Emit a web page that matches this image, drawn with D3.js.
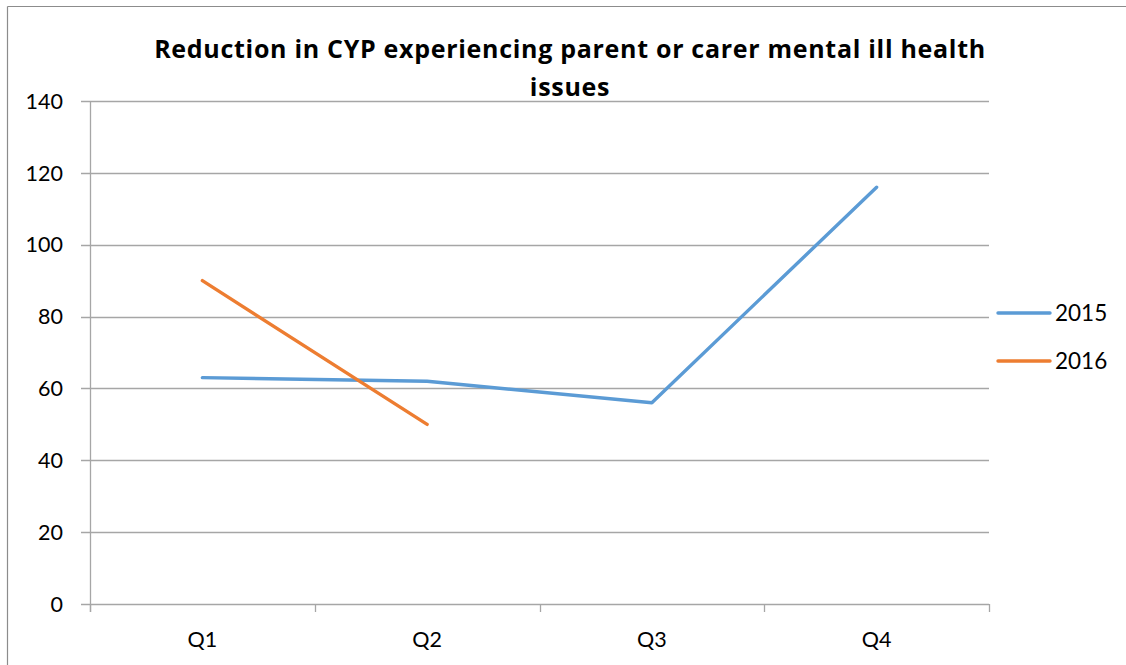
<!DOCTYPE html>
<html>
<head>
<meta charset="utf-8">
<script src="https://cdn.jsdelivr.net/npm/d3@7"></script>
<style>
  body { margin: 0; background: #fff; }
  svg { display: block; font-family: Lato, "Open Sans", sans-serif; }
</style>
</head>
<body>
<svg id="chart" width="1126" height="665"></svg>
<script>
const categories = ['Q1', 'Q2', 'Q3', 'Q4'];
const values2015 = [63, 62, 56, 116];
const values2016 = [90, 50];
const seriesNames = ['2015', '2016'];
const seriesColors = ['#5B9BD5', '#ED7D31'];
const yTicks = [0, 20, 40, 60, 80, 100, 120, 140];
const titleLines = ['Reduction in CYP experiencing parent or carer mental ill health', 'issues'];

const W = 1126, H = 665;
const plot = { left: 90, right: 989, top: 101, bottom: 604 };

const svg = d3.select('#chart');

// outer frame (top + left only visible)
svg.append('line').attr('x1', 7.5).attr('x2', W).attr('y1', 6.5).attr('y2', 6.5)
  .attr('stroke', '#8c8c8c').attr('stroke-width', 1.2);
svg.append('line').attr('x1', 7.5).attr('x2', 7.5).attr('y1', 6.5).attr('y2', H)
  .attr('stroke', '#8c8c8c').attr('stroke-width', 1.2);

const x = d3.scaleBand().domain(categories).range([plot.left, plot.right]);
const y = d3.scaleLinear().domain([0, 140]).range([plot.bottom, plot.top]);

// gridlines
svg.append('g')
  .selectAll('line')
  .data(yTicks)
  .enter()
  .append('line')
  .attr('x1', plot.left - 9)
  .attr('x2', plot.right)
  .attr('y1', d => Math.round(y(d)) + 0.5)
  .attr('y2', d => Math.round(y(d)) + 0.5)
  .attr('stroke', '#a6a6a6')
  .attr('stroke-width', 1.3);

// y axis line
svg.append('line')
  .attr('x1', plot.left + 0.5).attr('x2', plot.left + 0.5)
  .attr('y1', plot.top).attr('y2', plot.bottom + 8)
  .attr('stroke', '#a6a6a6').attr('stroke-width', 1.3);

// y labels
svg.append('g')
  .selectAll('text')
  .data(yTicks)
  .enter()
  .append('text')
  .attr('x', 63)
  .attr('y', d => y(d))
  .attr('dy', '0.36em')
  .attr('text-anchor', 'end')
  .attr('font-size', 21.5)
  .attr('fill', '#000')
  .text(d => d);

// x ticks at category boundaries
const bounds = categories.map(c => x(c)).concat([plot.right]);
svg.append('g')
  .selectAll('line')
  .data(bounds)
  .enter()
  .append('line')
  .attr('x1', d => Math.round(d) + 0.5)
  .attr('x2', d => Math.round(d) + 0.5)
  .attr('y1', plot.bottom)
  .attr('y2', plot.bottom + 8)
  .attr('stroke', '#a6a6a6')
  .attr('stroke-width', 1.3);

// x labels
svg.append('g')
  .selectAll('text')
  .data(categories)
  .enter()
  .append('text')
  .attr('x', d => x(d) + x.bandwidth() / 2)
  .attr('y', 647)
  .attr('text-anchor', 'middle')
  .attr('font-size', 21.5)
  .attr('fill', '#000')
  .text(d => d);

// lines
const line = d3.line()
  .x((d, i) => x(categories[i]) + x.bandwidth() / 2)
  .y(d => y(d));

[values2015, values2016].forEach((vals, i) => {
  svg.append('path')
    .datum(vals)
    .attr('d', line)
    .attr('fill', 'none')
    .attr('stroke', seriesColors[i])
    .attr('stroke-width', 3.4)
    .attr('stroke-linecap', 'round')
    .attr('stroke-linejoin', 'round');
});

// title
svg.append('g')
  .selectAll('text')
  .data(titleLines)
  .enter()
  .append('text')
  .attr('x', 570)
  .attr('y', (d, i) => 58 + i * 38)
  .attr('text-anchor', 'middle')
  .attr('font-family', '"Open Sans", Lato, sans-serif')
  .attr('font-size', 25)
  .attr('font-weight', 'bold')
  .attr('letter-spacing', 0.7)
  .attr('fill', '#000')
  .text(d => d);

// legend
const legend = svg.append('g')
  .selectAll('g')
  .data(seriesNames)
  .enter()
  .append('g')
  .attr('transform', (d, i) => `translate(0, ${313 + i * 48})`);

legend.append('line')
  .attr('x1', 998).attr('x2', 1050)
  .attr('y1', 0).attr('y2', 0)
  .attr('stroke', (d, i) => seriesColors[i])
  .attr('stroke-width', 3.4)
  .attr('stroke-linecap', 'round');

legend.append('text')
  .attr('x', 1055)
  .attr('y', 0)
  .attr('dy', '0.36em')
  .attr('font-size', 22.5)
  .attr('fill', '#000')
  .text(d => d);
</script>
</body>
</html>
